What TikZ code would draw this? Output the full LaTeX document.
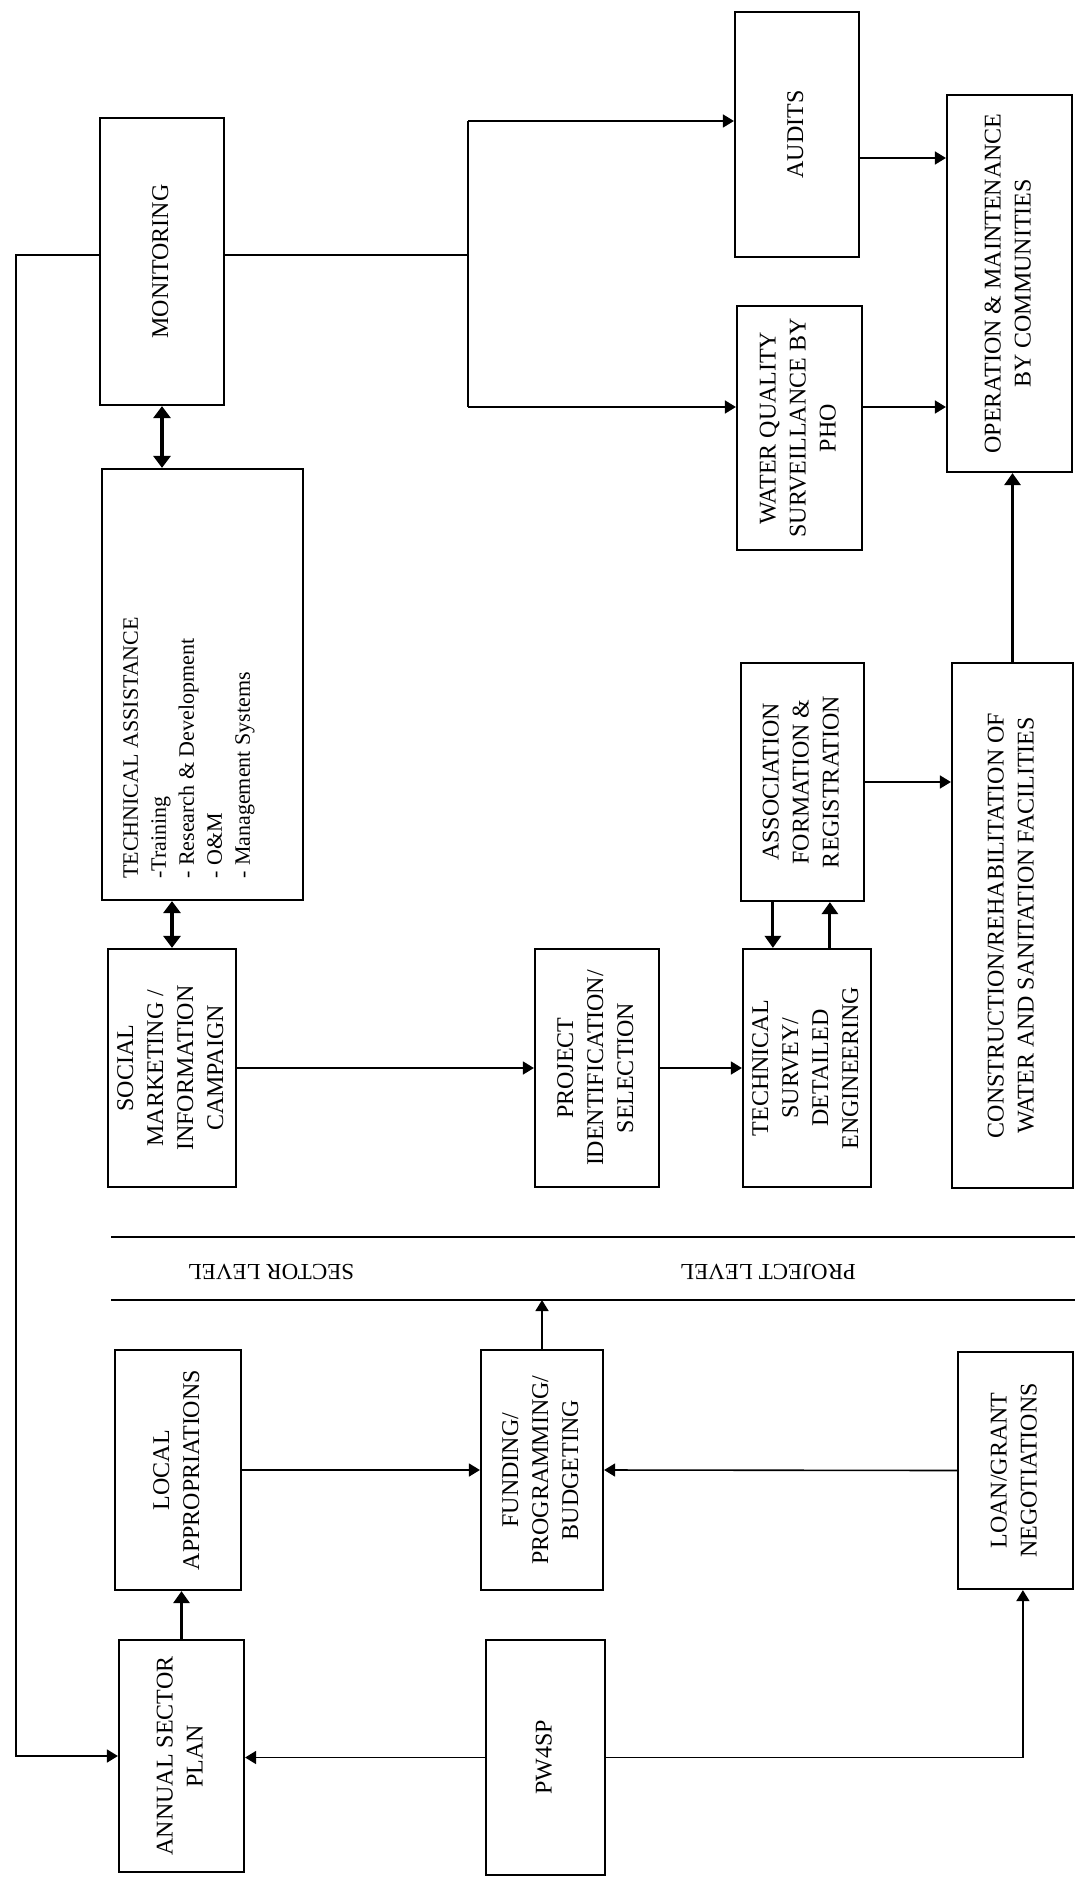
\documentclass[tikz,border=0pt]{standalone}
\usepackage{graphicx}
\usepackage{fontspec}
\setmainfont{Liberation Serif}
\usetikzlibrary{arrows.meta,calc}

% rotated, centred multi-line box text
\newcommand{\vlabel}[1]{\rotatebox{90}{\begin{tabular}{@{}c@{}}#1\end{tabular}}}

\begin{document}
\begin{tikzpicture}[
  x=0.5pt, y=-0.5pt,
  box/.style={draw, line width=1.1pt, inner sep=2pt,
    minimum width=62pt, minimum height=120pt,
    font=\fontsize{12}{15}\selectfont},
  wire/.style={line width=0.8pt},
  link/.style={wire, -{Triangle[length=5.5pt,width=6.5pt]}},
  boldlink/.style={line width=1.5pt, -{Triangle[length=6pt,width=8pt]}},
  twoway/.style={line width=1.6pt,
    {Triangle[length=6pt,width=8.5pt]}-{Triangle[length=6pt,width=8.5pt]}},
  divider/.style={line width=1.1pt},
  level/.style={rotate=180, font=\fontsize{11.5}{14}\selectfont},
]

\useasboundingbox (0,0) rectangle (1075,1877);

% ── Sector activities (left column, top) ────────────────────────────────
\node[box, minimum height=143.5pt] (mon) at (162,261.5) {\vlabel{MONITORING}};
\node[box, minimum width=100.5pt, minimum height=215.5pt] (techasst) at (202.5,684.5) {};
\node[rotate=90, anchor=north west, inner sep=0pt, align=left,
      font=\fontsize{11}{14}\selectfont]
  (tatext) at ($(techasst.south west)+(22,-22)$)
  {TECHNICAL ASSISTANCE\\-Training\\- Research \& Development\\- O\&M\\- Management Systems};
\node[box, minimum height=119pt] (socmkt) at (172,1068)
  {\vlabel{SOCIAL\\MARKETING /\\INFORMATION\\CAMPAIGN}};

% ── Project chain ───────────────────────────────────────────────────────
\node[box, minimum height=119pt] (projid) at (597,1068)
  {\vlabel{PROJECT\\IDENTIFICATION/\\SELECTION}};
\node[box, minimum height=119pt] (techsurv) at (807,1068)
  {\vlabel{TECHNICAL\\SURVEY/\\DETAILED\\ENGINEERING}};
\node[box, minimum width=61.5pt, minimum height=119pt] (assoc) at (802.5,782)
  {\vlabel{ASSOCIATION\\FORMATION \&\\REGISTRATION}};
\node[box, minimum width=60.5pt, minimum height=262.5pt] (constr) at (1012.5,925.5)
  {\vlabel{CONSTRUCTION/REHABILITATION OF\\WATER AND SANITATION FACILITIES}};

% ── Follow-up (right, top) ──────────────────────────────────────────────
\node[box, minimum width=62.5pt, minimum height=122pt] (wqs) at (799.5,428)
  {\vlabel{WATER QUALITY\\SURVEILLANCE BY\\PHO}};
\node[box, minimum height=122.5pt] (audits) at (797,134.5) {\vlabel{AUDITS}};
\node[box, minimum width=62.5pt, minimum height=188.5pt] (opmaint) at (1009.5,283.5)
  {\vlabel{OPERATION \& MAINTENANCE\\BY COMMUNITIES}};

% ── Sector / project level band ─────────────────────────────────────────
\draw[divider] (111,1237) -- (1075,1237);
\draw[divider] (111,1300) -- (1075,1300);
\coordinate (lvlline) at (538,1300);
\node[level] (sectorlvl) at (271,1272) {SECTOR LEVEL};
\node[level] (projectlvl) at (768,1272) {PROJECT LEVEL};

% ── Planning and funding (bottom) ───────────────────────────────────────
\node[box, minimum width=63pt] (localapp) at (178,1470) {\vlabel{LOCAL\\APPROPRIATIONS}};
\node[box, minimum width=61pt] (funding) at (542,1470)
  {\vlabel{FUNDING/\\PROGRAMMING/\\BUDGETING}};
\node[box, minimum width=57.5pt, minimum height=118.5pt] (loangrant) at (1015.5,1470.5)
  {\vlabel{LOAN/GRANT\\NEGOTIATIONS}};
\node[box, minimum width=62.5pt, minimum height=116pt] (annplan) at (181.5,1756)
  {\vlabel{ANNUAL SECTOR\\PLAN}};
\node[box, minimum width=59.5pt, minimum height=117.5pt] (pw4sp) at (545.5,1757.5)
  {\vlabel{PW4SP}};

% ── Connectors ──────────────────────────────────────────────────────────
% monitoring fans out to audits and water quality
\coordinate (brtop) at (468,121);
\coordinate (brbot) at (468,407);
\draw[wire] ($(mon.east)+(0,-6.5)$) coordinate (mout) -- (mout -| brtop);
\draw[wire] (brtop) -- (brbot);
\draw[link] (brtop) -- (brtop -| audits.west);
\draw[link] (brbot) -- (brbot -| wqs.west);
\draw[link] ($(audits.east)+(0,23.5)$) coordinate (aout) -- (aout -| opmaint.west);
\draw[link] ($(wqs.east)+(0,-21)$) coordinate (wout) -- (wout -| opmaint.west);

% feedback loop round the left edge
\coordinate (fb) at (16,1000);
\draw[link] ($(mon.west)+(0,-6.5)$) -| (fb) |- (annplan.west);

\draw[twoway] (mon.south) -- (mon.south |- techasst.north);
\draw[twoway] (socmkt.north) -- (socmkt.north |- techasst.south);

\draw[link] (socmkt.east) -- (projid.west);
\draw[link] (projid.east) -- (techsurv.west);
\draw[boldlink] ($(assoc.south west)+(33,0)$) coordinate (adown) -- (adown |- techsurv.north);
\draw[boldlink] ($(techsurv.north west)+(88,0)$) coordinate (tsup) -- (tsup |- assoc.south);
\draw[link] (assoc.east) -- (assoc.east -| constr.west);
\draw[boldlink] (constr.north) -- (constr.north |- opmaint.south);

\draw[boldlink] (annplan.north) -- (annplan.north |- localapp.south);
\draw[link] (localapp.east) -- (funding.west);
\draw[link] (loangrant.west) -- (funding.east);
\draw[link] (funding.north) -- (funding.north |- lvlline);
\draw[link] (pw4sp.west) -- (pw4sp.west -| annplan.east);
\draw[link] (pw4sp.east) -| ($(loangrant.south west)+(66,0)$);

\end{tikzpicture}
\end{document}
